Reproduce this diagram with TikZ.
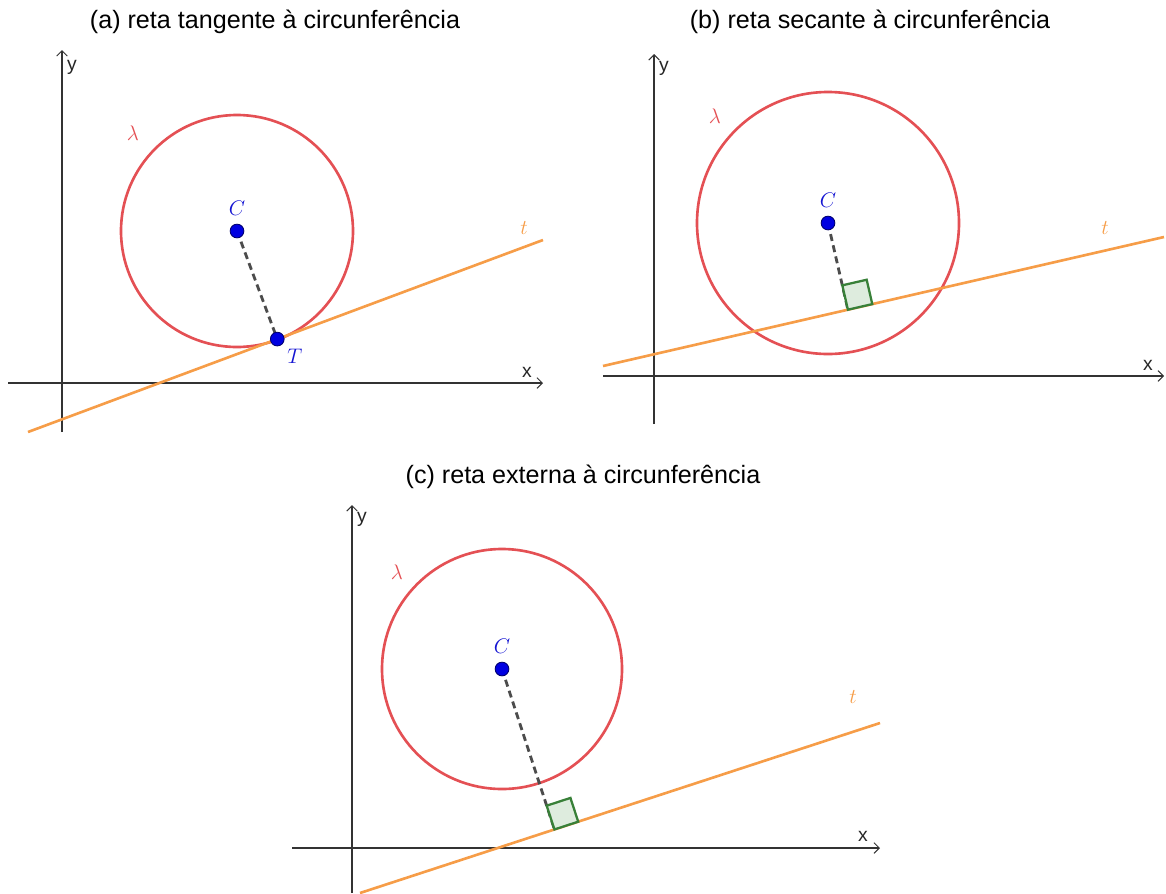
\documentclass[tikz,border=0pt]{standalone}
\usepackage{fontspec}
\setmainfont{Liberation Sans}
\usetikzlibrary{arrows.meta,calc}

\definecolor{circred}{RGB}{228,80,84}
\definecolor{retaorange}{RGB}{246,157,72}
\definecolor{ptblue}{RGB}{0,0,225}
\definecolor{lblblue}{RGB}{20,20,210}
\definecolor{sqgreen}{RGB}{56,128,56}
\definecolor{sqfill}{RGB}{222,236,222}

\tikzset{
  eixos/.style={-{Straight Barb[length=3pt,width=6pt]}, line width=0.6pt, black!80},
  circ/.style={circred, line width=1.5pt},
  reta/.style={retaorange, line width=1.5pt},
  raio/.style={black!70, line width=1.6pt, dash pattern=on 4pt off 2.5pt},
  ponto/.style={circle, fill=ptblue, draw=ptblue!50!black, line width=0.5pt,
    inner sep=0pt, minimum size=7.8pt},
  quad/.style={draw=sqgreen, fill=sqfill, line width=1.3pt},
  titulo/.style={font=\fontsize{14.3}{17}\selectfont},
  eixo/.style={font=\fontsize{11}{13}\selectfont, text=black!85},
  rot/.style={font=\fontsize{12.5}{14}\selectfont}
}

\begin{document}
\begin{tikzpicture}[x=0.02cm, y=0.02cm]

\useasboundingbox (0,-893) rectangle (1166,0);

% (a) tangent line
\begin{scope}[shift={(62,-383)}]
  % Axes
  \draw[eixos] (-54,0) -- (481,0);
  \draw[eixos] (0,-49) -- (0,333);
  \node[eixo] (xa) at (465,11) {x};
  \node[eixo] (ya) at (10,316) {y};

  % Circle and line
  \coordinate (C1) at (175,152);
  \coordinate (P1a) at (-34,-49);
  \coordinate (P1b) at (481,143);
  \coordinate (T1) at ($(P1a)!(C1)!(P1b)$);
  \draw[circ] (C1) circle (116);
  \draw[reta] (P1a) -- (P1b);
  \draw[raio] (C1) -- (T1);

  % Points
  \node[ponto, label={[rot, text=lblblue, label distance=1pt]above:$C$}] (pC1) at (C1) {};
  \node[ponto, label={[rot, text=lblblue, label distance=-1pt]below right:$T$}] (pT1) at (T1) {};

  % Labels
  \node[rot, text=circred] (lam1) at (71,250) {$\lambda$};
  \node[rot, text=retaorange] (t1) at (462,155) {$t$};
  \node[titulo] (tit1) at (213,361) {(a) reta tangente à circunferência};
\end{scope}

% (b) secant line
\begin{scope}[shift={(654,-376)}]
  % Axes
  \draw[eixos] (-51,0) -- (510,0);
  \draw[eixos] (0,-48) -- (0,322);
  \node[eixo] (xb) at (494,11) {x};
  \node[eixo] (yb) at (10,308) {y};

  % Circle and line
  \coordinate (C2) at (174,153);
  \coordinate (P2a) at (-51,10);
  \coordinate (P2b) at (510,139);
  \coordinate (F2) at ($(P2a)!(C2)!(P2b)$);
  \coordinate (A2) at ($(F2)!0.5cm!(P2b)$);
  \coordinate (B2) at ($(F2)!0.5cm!(C2)$);
  \draw[circ] (C2) circle (131);
  \draw[reta] (P2a) -- (P2b);
  \draw[raio] (C2) -- (F2);
  \draw[quad] (F2) -- (A2) -- ($(A2)+(B2)-(F2)$) -- (B2) -- cycle;

  % Points
  \node[ponto, label={[rot, text=lblblue, label distance=1pt]above:$C$}] (pC2) at (C2) {};

  % Labels
  \node[rot, text=circred] (lam2) at (61,260) {$\lambda$};
  \node[rot, text=retaorange] (t2) at (451,148) {$t$};
  \node[titulo] (tit2) at (216,354) {(b) reta secante à circunferência};
\end{scope}

% (c) external line
\begin{scope}[shift={(352,-848)}]
  % Axes
  \draw[eixos] (-60,0) -- (528,0);
  \draw[eixos] (0,-45) -- (0,343);
  \node[eixo] (xc) at (511,12) {x};
  \node[eixo] (yc) at (10,329) {y};

  % Circle and line
  \coordinate (C3) at (150,179);
  \coordinate (P3a) at (8,-45);
  \coordinate (P3b) at (528,125);
  \coordinate (F3) at ($(P3a)!(C3)!(P3b)$);
  \coordinate (A3) at ($(F3)!0.5cm!(P3b)$);
  \coordinate (B3) at ($(F3)!0.5cm!(C3)$);
  \draw[circ] (C3) circle (120);
  \draw[reta] (P3a) -- (P3b);
  \draw[raio] (C3) -- (F3);
  \draw[quad] (F3) -- (A3) -- ($(A3)+(B3)-(F3)$) -- (B3) -- cycle;

  % Points
  \node[ponto, label={[rot, text=lblblue, label distance=1pt]above:$C$}] (pC3) at (C3) {};

  % Labels
  \node[rot, text=circred] (lam3) at (45,276) {$\lambda$};
  \node[rot, text=retaorange] (t3) at (501,151) {$t$};
  \node[titulo] (tit3) at (231,371) {(c) reta externa à circunferência};
\end{scope}

\end{tikzpicture}
\end{document}
